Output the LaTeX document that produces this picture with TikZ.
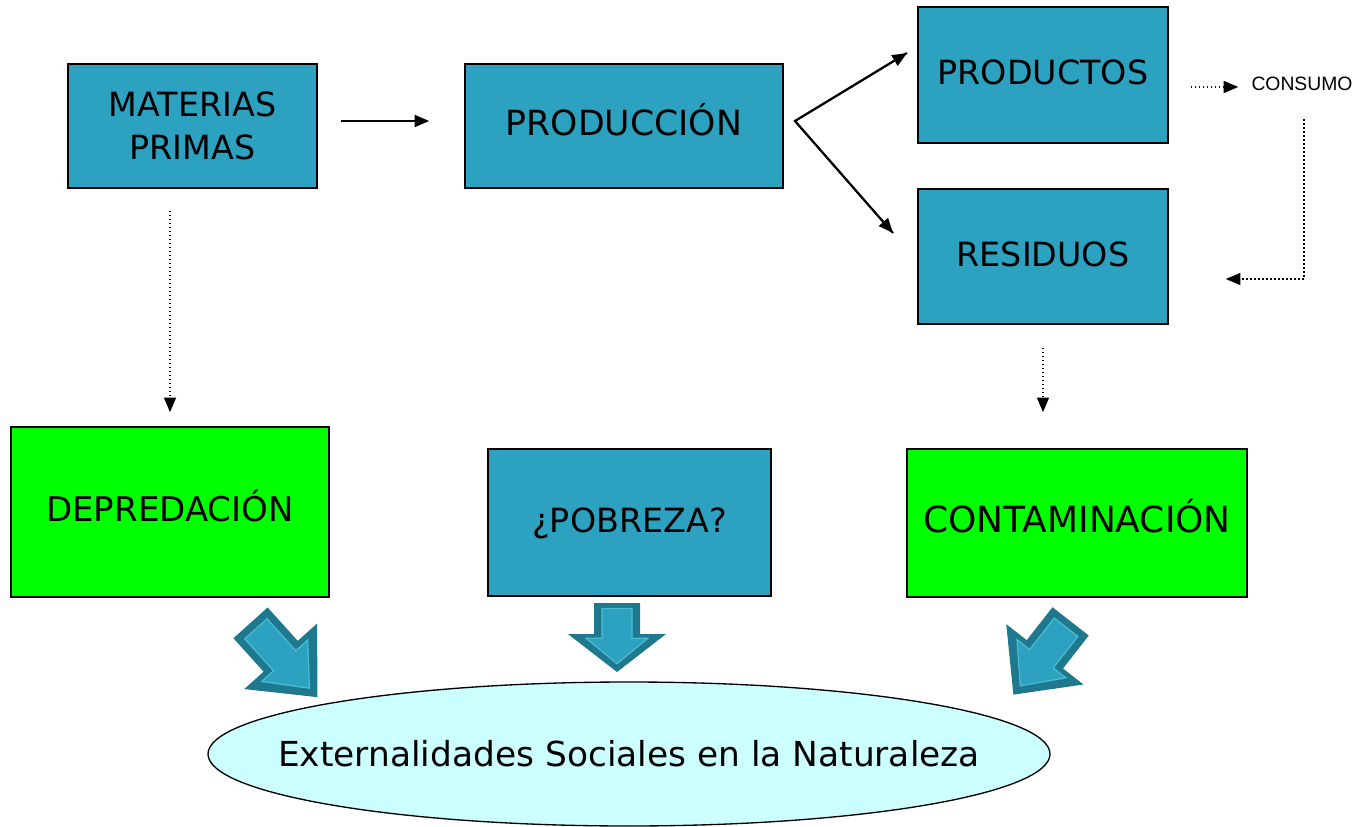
\documentclass[tikz,border=0pt]{standalone}
\usepackage{fontspec}
\setmainfont{DejaVu Sans}
\newfontfamily\arialf{Liberation Sans}
\usetikzlibrary{arrows.meta,calc,shapes.geometric}
\definecolor{tealbox}{RGB}{45,162,192}
\definecolor{tealdark}{RGB}{30,120,142}
\definecolor{teallight}{RGB}{75,188,212}
\definecolor{grn}{RGB}{0,255,0}
\definecolor{cyanlt}{RGB}{204,255,255}
\newcommand\blockarrow[4]{%
\begin{scope}[shift={(#1,#2)},rotate=#3,yscale=#4]
\fill[tealdark] (-23,-50) -- (23,-50) -- (23,-5) -- (49,-5) -- (0,50) -- (-49,-5) -- (-23,-5) -- cycle;
\filldraw[fill=tealbox,draw=teallight,line width=0.9pt] (-15,-42) -- (15,-42) -- (15,1) -- (31,1) -- (0,38) -- (-31,1) -- (-15,1) -- cycle;
\end{scope}}
\begin{document}
\begin{tikzpicture}[x=0.75pt,y=-0.75pt,
  sz/.style 2 args={minimum width=#1*0.75pt, minimum height=#2*0.75pt},
  box/.style={draw=black, line width=1.2pt, fill=tealbox, inner sep=0pt, align=center,
    font=\fontsize{25}{32}\selectfont},
  one/.style={text height=18.2pt, text depth=3.5pt},
  gbox/.style={box, fill=grn},
  solidarrow/.style={line width=1.5pt, -{Triangle[length=11pt,width=9pt]}},
  dotarrow/.style={line width=1.1pt, dash pattern=on 1.1pt off 1.9pt, -{Triangle[length=11pt,width=9pt]}}
]
\useasboundingbox (0,0) rectangle (1360,827);
% nodes
\node[box, sz={249}{124}] (mp) at (192.5,126) {MATERIAS\\PRIMAS};
\node[box, one, sz={318}{124}, font=\fontsize{26}{32}\selectfont] (prod) at (624,126) {PRODUCCIÓN};
\node[box, one, sz={250}{136}] (pdt) at (1043,75) {PRODUCTOS};
\node[box, one, sz={250}{135}] (res) at (1043,256.5) {RESIDUOS};
\node[gbox, one, sz={318}{170}, font=\fontsize{25.5}{32}\selectfont] (dep) at (170,512) {DEPREDACIÓN};
\node[box, one, sz={283}{147}] (pob) at (629.5,522.5) {¿POBREZA?};
\node[gbox, one, sz={340}{148}, font=\fontsize{27}{32}\selectfont] (cont) at (1077,523) {CONTAMINACIÓN};
\node[ellipse, draw=black, line width=1pt, fill=cyanlt, sz={842}{144}, inner sep=0pt] (ell) at (629,754) {};
\node[font=\fontsize{25.8}{30}\selectfont, text height=18.8pt, text depth=0pt, inner sep=0pt] (ext) at (ell.center) {Externalidades Sociales en la Naturaleza};
\node[font=\arialf\fontsize{14.5}{17}\selectfont, inner sep=0pt] (cons) at (1302,84) {CONSUMO};
% connectors
\coordinate (br) at (795,121);
\coordinate (brA) at (907,53);
\coordinate (brB) at (893,233);
\draw[solidarrow] ($(mp.east)+(23,-5)$) -- ($(prod.west)+(-35,-5)$);
\draw[line width=1.5pt, line join=miter] (brA) -- (br) -- (brB);
\draw[solidarrow] (br) -- (brA);
\draw[solidarrow] (br) -- (brB);
\draw[dotarrow] ($(pdt.east)+(22,12)$) -- ($(cons.west)+(-13,3)$);
\draw[dotarrow] ($(cons.south)+(2,28)$) |- ($(res.east)+(57,22.5)$);
\draw[dotarrow] ($(dep.north |- mp.south)+(0,22)$) -- ($(dep.north)+(0,-14)$);
\draw[dotarrow] ($(res.south)+(0,23)$) -- ($(cont.north -| res.south)+(0,-36)$);
% block arrows
\blockarrow{284}{660}{42}{1}
\blockarrow{617}{637.5}{0}{0.69}
\blockarrow{1042}{658}{-38}{0.93}
\end{tikzpicture}
\end{document}
